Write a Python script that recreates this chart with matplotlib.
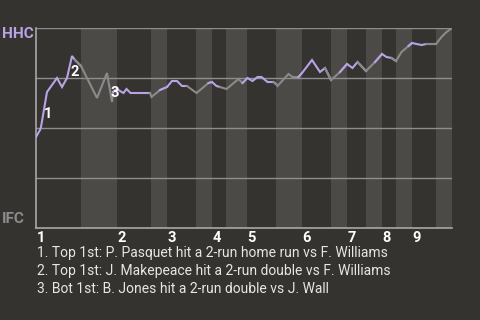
import matplotlib
matplotlib.use('Agg')
import matplotlib.pyplot as plt
import numpy as np

# win probability for HHC, one point per play
plays = [0, 0.8, 1.0, 2.2, 4.2, 5.2, 6.2, 7.2, 7.8, 9.0,
         12.2, 14.2, 15.2, 15.4, 16.2,
         16.8, 17.5, 18.1, 18.9, 22.8, 23.1,
         24.8, 26.2,
         27.2, 28.2, 29.2, 30.2, 32.1,
         34.5, 35.2,
         36.1, 36.8, 38.1,
         40.5, 41.3, 42.3,
         43.3, 44.3, 45.1, 46.3, 47.5, 48.0,
         48.3, 50.5, 51.3, 52.5, 53.2,
         55.2, 56.8, 57.8, 59.0,
         60.8, 62.2,
         63.3, 64.3, 66.0,
         67.8, 69.2,
         70.1, 71.1, 72.0,
         73.1, 74.5, 75.2,
         76.1, 77.1, 78.1, 80.0,
         81.1, 82.1, 83.2]
hhc_wp = [0.455, 0.49, 0.505, 0.68, 0.75, 0.705, 0.75, 0.86, 0.84, 0.81,
          0.65, 0.775, 0.63, 0.68, 0.695,
          0.685, 0.675, 0.695, 0.675, 0.675, 0.655,
          0.69, 0.705,
          0.735, 0.735, 0.71, 0.71, 0.675,
          0.725, 0.73,
          0.71, 0.705, 0.695,
          0.745, 0.725, 0.75,
          0.735, 0.755, 0.755, 0.73, 0.73, 0.72,
          0.71, 0.77, 0.755, 0.755, 0.775,
          0.84, 0.78, 0.80, 0.74,
          0.78, 0.82,
          0.80, 0.83, 0.785,
          0.83, 0.87,
          0.855, 0.85, 0.835,
          0.88, 0.91, 0.925,
          0.92, 0.915, 0.92, 0.92,
          0.955, 0.98, 1.0]

# where each half inning starts / ends (same units as plays)
halves = [0, 9, 16.2, 23, 26.2, 32, 35.2, 38, 42.2, 48, 53.2,
          59, 62.2, 66, 69.2, 72, 75.2, 80, 83.2]
innings = ['1', '2', '3', '4', '5', '6', '7', '8', '9']

# big plays
marks = ['1', '2', '3']
mark_x = [2.4, 7.8, 15.8]
mark_y = [0.57, 0.78, 0.675]
notes = ["1. Top 1st: P. Pasquet hit a 2-run home run vs F. Williams",
         "2. Top 1st: J. Makepeace hit a 2-run double vs F. Williams",
         "3. Bot 1st: B. Jones hit a 2-run double vs J. Wall"]

bg = '#353330'
band = '#4b4a47'
grid = '#8e8e8e'
purple = '#b9a2e6'
grey = '#8a8a8a'

plt.rcParams['font.family'] = ['Roboto', 'DejaVu Sans']

fig = plt.figure(figsize=(4.8, 3.2), dpi=100, facecolor=bg)
ax = fig.add_axes([36/480, 1-228/320, 416/480, 200/320])
ax.set_facecolor(bg)

x = np.array(plays)
y = np.array(hhc_wp)

#--------- shaded bottom halves + line pieces -----------
for i in range(len(halves)-1):
    a, b = halves[i], halves[i+1]
    if i % 2 == 1:
        ax.axvspan(a, b, color=band, lw=0, zorder=0)
    # include last point of the previous half so pieces join
    sel = np.where((x >= a - 1e-9) & (x <= b + 1e-9))[0]
    if i > 0 and sel[0] > 0:
        sel = np.concatenate([[sel[0]-1], sel])
    c = purple if i % 2 == 0 else grey
    ax.plot(x[sel], y[sel], color=c, lw=1.5, solid_joinstyle='miter', zorder=3)

for v in [0.25, 0.5, 0.75, 1.0]:
    ax.axhline(v, color=grid, lw=1.0, zorder=1)

ax.set_xlim(0, 83.2)
ax.set_ylim(0, 1)
ax.set_xticks([])
ax.set_yticks([])
for s in ['top', 'right']:
    ax.spines[s].set_visible(False)
for s in ['left', 'bottom']:
    ax.spines[s].set_color('#a8a8a8')
    ax.spines[s].set_linewidth(1.2)

for m, mx, my in zip(marks, mark_x, mark_y):
    ax.text(mx, my, m, color='white', fontsize=10.5, fontweight='bold',
            ha='center', va='center', zorder=4)

# inning numbers under the start of each inning
for k, lab in enumerate(innings):
    ax.text(halves[2*k] + 0.1, -0.015, lab, color='white', fontsize=10.5,
            fontweight='bold', ha='left', va='top')

fig.text(2/480, 1-34/320, 'HHC', color=purple, fontsize=11, fontweight='bold',
         ha='left', va='center')
fig.text(2/480, 1-219/320, 'IFC', color='#8c8c8c', fontsize=11, fontweight='bold',
         ha='left', va='center')

for j, n in enumerate(notes):
    fig.text(37/480, 1-(253 + j*18)/320, n, color='#e6e6e6', fontsize=10,
             ha='left', va='center')

fig.savefig('out.png', dpi=100, facecolor=bg)
